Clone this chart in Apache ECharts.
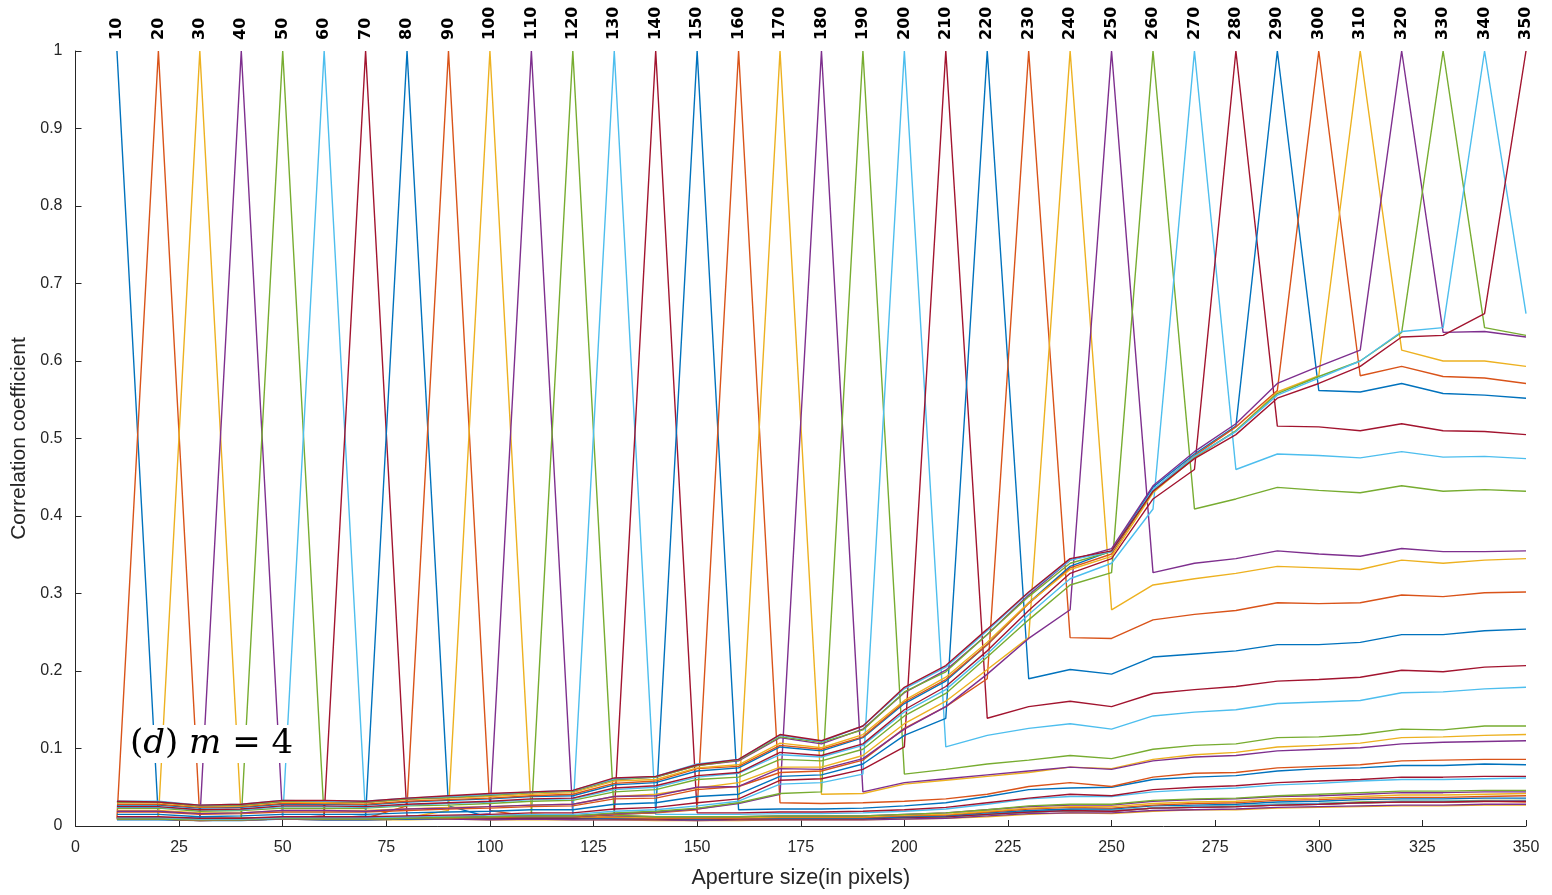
<!DOCTYPE html>
<html>
<head>
<meta charset="utf-8">
<title>Correlation coefficient vs aperture size</title>
<script src="https://cdn.jsdelivr.net/npm/echarts@6/dist/echarts.min.js"></script>
<style>
  html, body { margin: 0; padding: 0; background: #fff; }
  #container { width: 1552px; height: 895px; }
</style>
</head>
<body>
<div id="container"></div>
<script>
// aperture sizes: x positions, series names and the labels on top
var apertures = [10, 20, 30, 40, 50, 60, 70, 80, 90, 100, 110, 120, 130, 140, 150, 160, 170, 180,
  190, 200, 210, 220, 230, 240, 250, 260, 270, 280, 290, 300, 310, 320, 330, 340, 350];
var topLabels = apertures.map(String);
var xTicks = [0, 25, 50, 75, 100, 125, 150, 175, 200, 225, 250, 275, 300, 325, 350];

// matlab default line colours
var colors = ["#0072BD", "#D95319", "#EDB120", "#7E2F8E", "#77AC30", "#4DBEEE", "#A2142F"];

// tails[i]: correlation of aperture i with every larger aperture (the matrix is symmetric)
var tails = [
  [.010, .010, .010, .011, .010, .009, .010, .010, .010, .010, .010, .009, .009, .008, .009, .009, .009, .009, .011, .012, .015, .018, .020, .019, .023, .024, .025, .027, .028, .030, .031, .031, .032, .032],
  [.010, .010, .011, .010, .009, .010, .010, .010, .010, .010, .009, .009, .008, .009, .009, .009, .009, .011, .012, .015, .018, .020, .019, .023, .024, .025, .027, .028, .030, .031, .031, .032, .031],
  [.008, .009, .008, .008, .008, .009, .008, .008, .008, .008, .007, .007, .007, .008, .008, .008, .009, .010, .012, .015, .017, .016, .019, .021, .021, .023, .024, .025, .026, .026, .027, .027],
  [.009, .008, .008, .009, .009, .008, .009, .008, .008, .008, .007, .008, .008, .008, .008, .009, .010, .013, .016, .017, .017, .020, .021, .022, .024, .025, .026, .027, .027, .028, .028],
  [.010, .010, .010, .011, .010, .010, .010, .009, .009, .009, .009, .009, .009, .010, .011, .012, .015, .018, .020, .020, .023, .025, .026, .028, .029, .031, .032, .032, .033, .033],
  [.013, .010, .010, .010, .010, .010, .009, .009, .008, .009, .009, .009, .009, .011, .012, .015, .018, .020, .020, .023, .025, .026, .028, .029, .030, .032, .032, .032, .033],
  [.013, .010, .010, .010, .010, .009, .009, .008, .009, .009, .009, .009, .011, .012, .015, .018, .020, .019, .023, .024, .025, .027, .028, .030, .031, .031, .032, .032],
  [.026, .011, .011, .011, .010, .010, .009, .010, .010, .010, .010, .012, .013, .017, .020, .022, .022, .026, .027, .028, .031, .032, .034, .035, .035, .036, .036],
  [.020, .012, .012, .011, .010, .010, .010, .011, .011, .011, .013, .014, .018, .022, .024, .023, .027, .029, .030, .033, .034, .036, .037, .037, .038, .039],
  [.016, .012, .012, .011, .011, .011, .012, .012, .012, .014, .015, .019, .023, .025, .025, .029, .031, .032, .035, .036, .038, .040, .040, .041, .042],
  [.014, .013, .012, .012, .012, .013, .013, .013, .015, .017, .021, .025, .027, .027, .032, .034, .035, .038, .039, .041, .043, .043, .044, .044],
  [.014, .012, .012, .012, .013, .013, .013, .015, .017, .021, .026, .028, .028, .033, .035, .036, .039, .041, .043, .045, .045, .046, .046],
  [.015, .015, .015, .016, .016, .017, .019, .022, .028, .035, .038, .038, .044, .047, .049, .053, .055, .058, .060, .060, .061, .062],
  [.017, .017, .018, .018, .019, .021, .024, .030, .036, .041, .039, .047, .050, .052, .056, .058, .060, .063, .063, .064, .064],
  [.021, .022, .022, .023, .026, .030, .038, .047, .049, .050, .060, .063, .065, .071, .074, .075, .078, .078, .080, .079],
  [.030, .029, .030, .032, .035, .041, .051, .056, .051, .063, .068, .069, .075, .077, .079, .084, .085, .086, .086],
  [.041, .042, .054, .059, .064, .069, .076, .074, .086, .092, .095, .102, .104, .107, .114, .115, .117, .118],
  [.044, .056, .061, .066, .071, .076, .073, .084, .089, .091, .097, .099, .101, .106, .108, .109, .110],
  [.067, .073, .080, .085, .091, .087, .099, .104, .106, .114, .115, .118, .125, .124, .129, .129],
  [.102, .117, .126, .132, .125, .142, .147, .150, .158, .160, .162, .172, .173, .177, .179],
  [.139, .154, .161, .154, .171, .176, .180, .187, .189, .192, .201, .199, .205, .207],
  [.190, .202, .196, .218, .222, .226, .234, .234, .237, .247, .247, .252, .254],
  [.243, .242, .266, .273, .278, .288, .287, .288, .298, .296, .301, .302],
  [.279, .311, .319, .326, .335, .333, .331, .343, .339, .343, .345],
  [.327, .339, .345, .355, .351, .348, .358, .354, .354, .355],
  [.409, .422, .437, .433, .430, .439, .432, .434, .432],
  [.460, .480, .478, .475, .483, .476, .477, .474],
  [.516, .515, .510, .519, .510, .509, .505],
  [.562, .560, .571, .558, .556, .552],
  [.581, .593, .580, .578, .571],
  [.614, .600, .600, .593],
  [.637, .638, .631],
  [.643, .633],
  [.661],
  []
];

function corr(i, j) {
  if (i === j) return 1;
  return i < j ? tails[i][j - i - 1] : tails[j][i - j - 1];
}

var chartDom = document.getElementById("container");
var myChart = echarts.init(chartDom);
var option;

var series = apertures.map(function (a, i) {
  return {
    name: String(a),
    type: "line",
    xAxisIndex: 0,
    data: apertures.map(function (x, j) {
      return [x, corr(i, j)];
    }),
    symbol: "none",
    lineStyle: { width: 1.4, color: colors[i % colors.length] },
    itemStyle: { color: colors[i % colors.length] },
    silent: true
  };
});

option = {
  animation: false,
  backgroundColor: "#fff",
  grid: { left: 75.5, right: 26, top: 51, bottom: 69 },
  xAxis: [
    {
      type: "value",
      min: 0,
      max: 350,
      interval: 25,
      name: "Aperture size(in pixels)",
      nameLocation: "middle",
      nameGap: 41,
      nameTextStyle: { fontFamily: "Liberation Sans", fontSize: 21.5, color: "#262626" },
      axisLine: { show: true, lineStyle: { color: "#262626", width: 1 } },
      axisTick: { show: true, inside: true, length: 6, lineStyle: { color: "#262626" } },
      axisLabel: {
        fontFamily: "Liberation Sans",
        fontSize: 16,
        color: "#262626",
        margin: 14,
        formatter: function (v) {
          return xTicks.indexOf(v) >= 0 ? String(v) : "";
        }
      },
      splitLine: { show: false }
    },
    {
      type: "value",
      position: "top",
      min: 0,
      max: 350,
      interval: 10,
      axisLine: { show: false },
      axisTick: { show: false },
      splitLine: { show: false },
      axisLabel: {
        rotate: -90,
        margin: 11,
        fontFamily: "DejaVu Sans",
        fontWeight: "bold",
        fontSize: 16,
        color: "#000",
        showMinLabel: false,
        showMaxLabel: true,
        formatter: function (v) {
          var k = apertures.indexOf(v);
          return k >= 0 ? topLabels[k] : "";
        }
      }
    }
  ],
  yAxis: {
    type: "value",
    min: 0,
    max: 1,
    interval: 0.1,
    name: "Correlation coefficient",
    nameLocation: "middle",
    nameGap: 45,
    nameTextStyle: { fontFamily: "Liberation Sans", fontSize: 21, color: "#262626" },
    axisLine: { show: true, lineStyle: { color: "#262626", width: 1 } },
    axisTick: { show: true, inside: true, length: 6, lineStyle: { color: "#262626" } },
    axisLabel: { fontFamily: "Liberation Sans", fontSize: 16, color: "#262626", margin: 13 },
    splitLine: { show: false }
  },
  graphic: [
    {
      type: "text",
      left: 126,
      top: 725,
      z: 100,
      style: {
        text: "({i|d}) {i|m} = 4",
        rich: {
          i: { fontFamily: "DejaVu Serif", fontStyle: "italic", fontSize: 34, fill: "#000" }
        },
        fontFamily: "DejaVu Serif",
        fontSize: 34,
        fill: "#000",
        backgroundColor: "#fff",
        padding: [2, 4, 2, 4]
      }
    }
  ],
  series: series
};

option && myChart.setOption(option);
</script>
</body>
</html>
